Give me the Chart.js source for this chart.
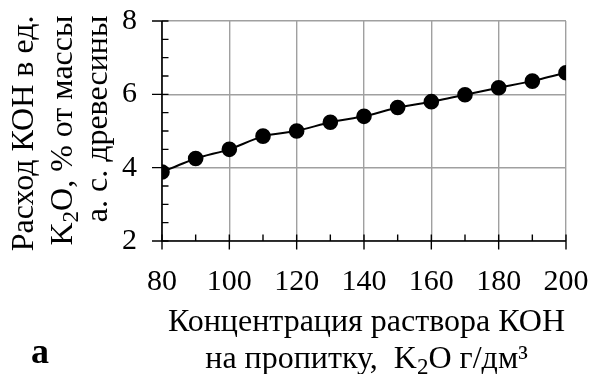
<!DOCTYPE html>
<html>
<head>
<meta charset="utf-8">
<script src="https://cdn.jsdelivr.net/npm/chart.js@4.4.1/dist/chart.umd.min.js"></script>
<style>
  html, body { margin: 0; padding: 0; background: #ffffff; }
  #wrap { width: 593px; height: 374px; }
</style>
</head>
<body>
<div id="wrap"><canvas id="chart" width="593" height="374"></canvas></div>
<script>
// KOH consumption vs. impregnating solution concentration
const concentration = [80, 90, 100, 110, 120, 130, 140, 150, 160, 170, 180, 190, 200];
const consumption   = [3.88, 4.25, 4.50, 4.86, 5.00, 5.24, 5.40, 5.64, 5.80, 5.99, 6.18, 6.36, 6.59];
const xTickValues   = [80, 100, 120, 140, 160, 180, 200];
const yTickValues   = [2, 4, 6, 8];
const xMinorStep = 10;
const yMinorStep = 0.5;

const FONT = '"Liberation Serif", "Times New Roman", serif';

// Draw a run of text pieces (with optional subscripts) on one baseline
function drawRich(ctx, parts, x, y, size, align) {
  const fontFor = p => (p.bold ? 'bold ' : '') + (p.sub ? Math.round(size * 0.72) : size) + 'px ' + FONT;
  let total = 0;
  parts.forEach(p => { ctx.font = fontFor(p); p.w = ctx.measureText(p.t).width; total += p.w; });
  let cx = align === 'right' ? x - total : (align === 'center' ? x - total / 2 : x);
  ctx.textAlign = 'left';
  ctx.textBaseline = 'alphabetic';
  parts.forEach(p => {
    ctx.font = fontFor(p);
    ctx.fillText(p.t, cx, y + (p.sub ? size * 0.2 : 0));
    cx += p.w;
  });
}

const yTitleLines = [
  [{ t: 'Расход КОН в ед.' }],
  [{ t: 'K' }, { t: '2', sub: true }, { t: 'O, % от массы' }],
  [{ t: 'а. с. древесины' }]
];
const xTitleLines = [
  [{ t: 'Концентрация раствора КОН' }],
  [{ t: 'на пропитку,  K' }, { t: '2', sub: true }, { t: 'O г/дм³' }]
];
const panelLetter = 'а';

// Axis lines with crossing major ticks and inward minor ticks
const axisFrame = {
  id: 'axisFrame',
  beforeDatasetsDraw(chart) {
    const { ctx, chartArea: a, scales: { x, y } } = chart;
    ctx.save();
    ctx.strokeStyle = '#000';
    ctx.lineWidth = 1.6;
    ctx.beginPath();
    ctx.moveTo(a.left, a.top); ctx.lineTo(a.left, a.bottom); ctx.lineTo(a.right, a.bottom);
    ctx.stroke();
    ctx.lineWidth = 1.4;
    ctx.beginPath();
    for (let v = y.min; v <= y.max + 1e-9; v += yMinorStep) {
      const py = y.getPixelForValue(v);
      const major = yTickValues.includes(Math.round(v * 100) / 100);
      ctx.moveTo(major ? a.left - 10 : a.left, py);
      ctx.lineTo(a.left + 6.5, py);
    }
    for (let v = x.min; v <= x.max + 1e-9; v += xMinorStep) {
      const px = x.getPixelForValue(v);
      const major = xTickValues.includes(v);
      ctx.moveTo(px, a.bottom - 6.5);
      ctx.lineTo(px, major ? a.bottom + 8.5 : a.bottom);
    }
    ctx.stroke();
    ctx.restore();
  },
  afterDraw(chart) {
    const { ctx, chartArea: a } = chart;
    ctx.save();
    ctx.fillStyle = '#000';
    // rotated y-axis title, lines end near the top of the plot
    const yBase = [33.3, 71.7, 106.7];
    yTitleLines.forEach((parts, i) => {
      ctx.save();
      ctx.translate(yBase[i], a.top - 5.5);
      ctx.rotate(-Math.PI / 2);
      drawRich(ctx, parts, 0, 0, 32, 'right');
      ctx.restore();
    });
    // x-axis title, two centred lines
    const cx = (a.left + a.right) / 2 + 2.5;
    drawRich(ctx, xTitleLines[0], cx, 330.7, 32, 'center');
    drawRich(ctx, xTitleLines[1], cx, 368, 32, 'center');
    // panel letter
    ctx.font = 'bold 36px ' + FONT;
    ctx.textAlign = 'left';
    ctx.textBaseline = 'alphabetic';
    ctx.fillText(panelLetter, 31, 363);
    ctx.restore();
  }
};

new Chart(document.getElementById('chart'), {
  type: 'line',
  data: {
    datasets: [{
      data: concentration.map((c, i) => ({ x: c, y: consumption[i] })),
      borderColor: '#000',
      backgroundColor: '#000',
      borderWidth: 2,
      pointRadius: 6.8,
      pointHoverRadius: 6.8,
      pointBackgroundColor: '#000',
      pointBorderColor: '#000',
      tension: 0.2,
      fill: false
    }]
  },
  options: {
    responsive: false,
    animation: false,
    events: [],
    layout: { padding: { top: 21, right: 27, left: 0, bottom: 0 } },
    plugins: { legend: { display: false }, tooltip: { enabled: false } },
    scales: {
      x: {
        type: 'linear',
        min: 80, max: 200,
        afterFit(s) { s.height = 133; s.paddingLeft = 0; s.paddingRight = 0; },
        afterBuildTicks(s) { s.ticks = xTickValues.map(v => ({ value: v })); },
        grid: { color: '#a0a0a0', lineWidth: 1.4, drawTicks: false },
        border: { display: false },
        ticks: { color: '#000', font: { family: FONT, size: 30 }, padding: 23, maxRotation: 0, autoSkip: false }
      },
      y: {
        type: 'linear',
        min: 2, max: 8,
        afterFit(s) { s.width = 162; s.paddingTop = 0; s.paddingBottom = 0; },
        afterBuildTicks(s) { s.ticks = yTickValues.map(v => ({ value: v })); },
        grid: { color: '#a0a0a0', lineWidth: 1.4, drawTicks: false },
        border: { display: false },
        ticks: { color: '#000', font: { family: FONT, size: 30 }, padding: 25 }
      }
    }
  },
  plugins: [axisFrame]
});
</script>
</body>
</html>
